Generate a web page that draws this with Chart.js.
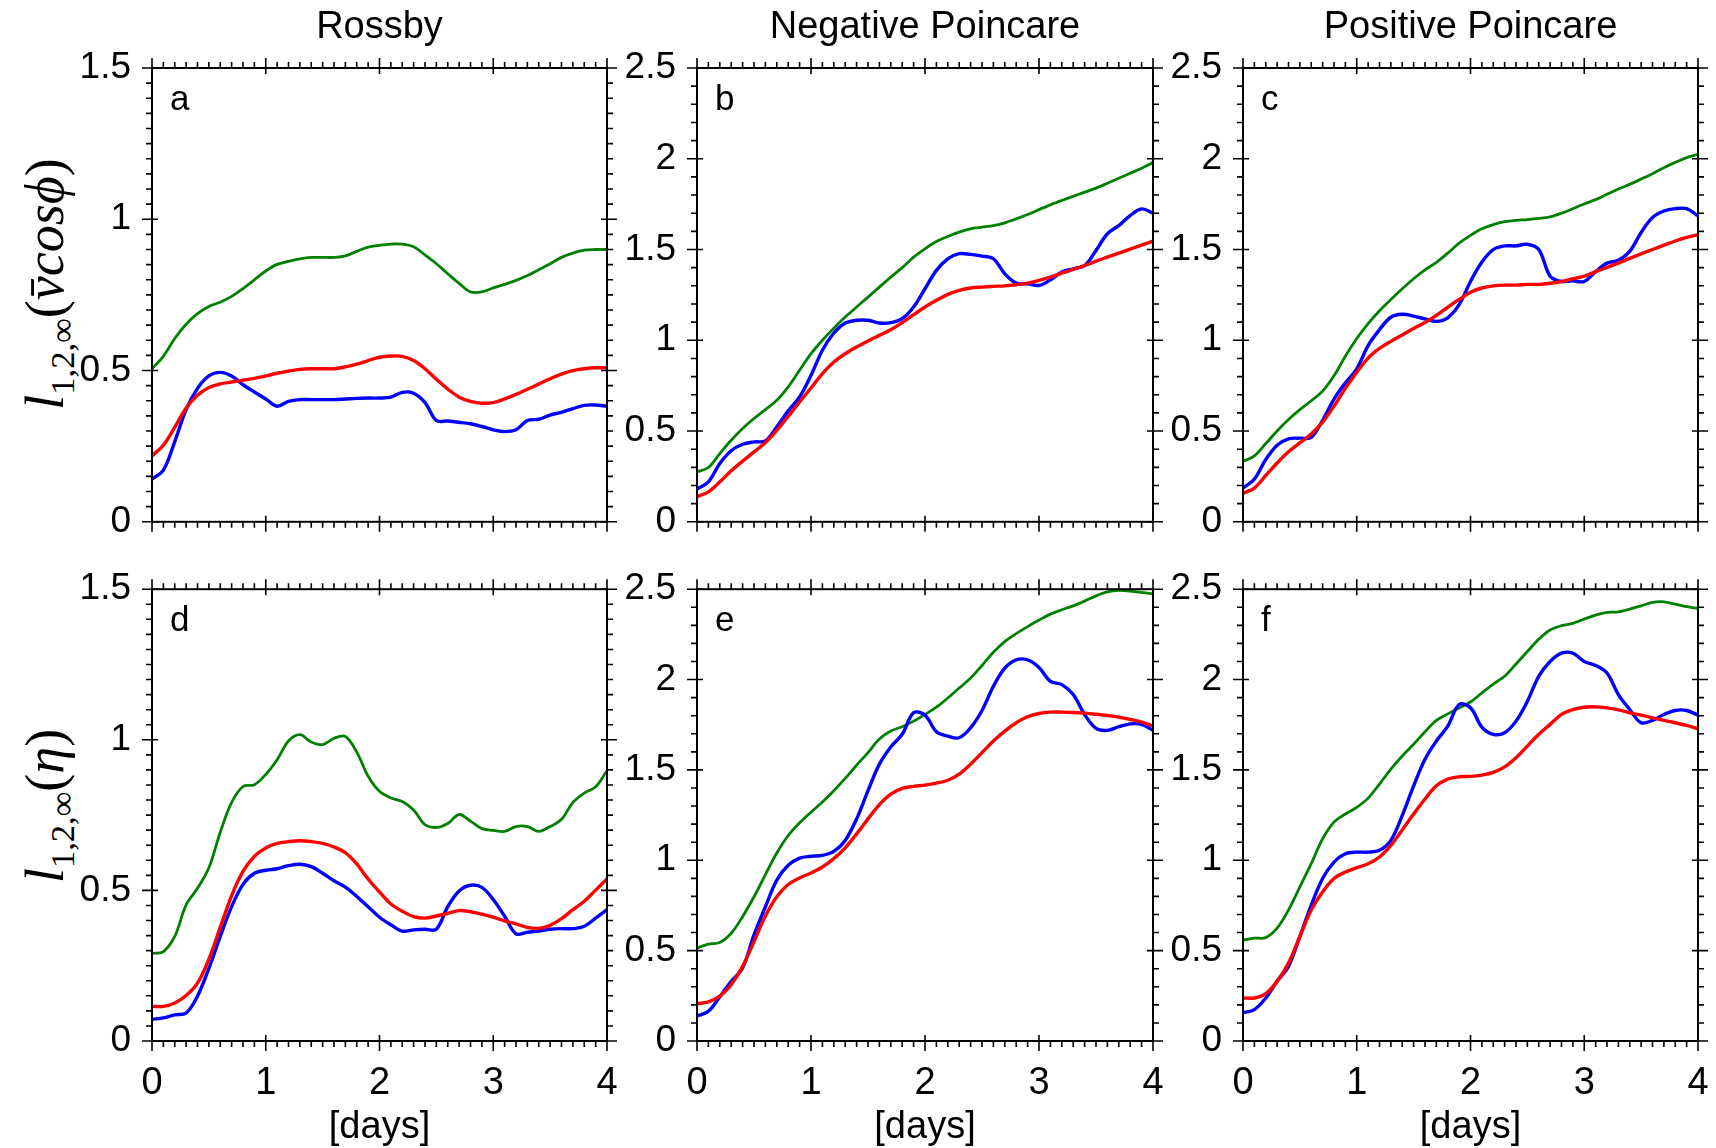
<!DOCTYPE html>
<html lang="en">
<head>
<meta charset="UTF-8">
<title>Rossby / Poincare norms</title>
<script src="https://cdn.jsdelivr.net/npm/chart.js@4"></script>
<style>
  body { margin: 0; background: #fff; }
  #fig { position: relative; width: 1716px; height: 1148px; overflow: hidden; background: #fff; }
  #fig canvas { position: absolute; }
  .ylab {
    position: absolute; white-space: nowrap; color: #000;
    font-family: "Liberation Serif", "DejaVu Serif", serif; font-size: 54px;
    transform: translate(-50%, -50%) rotate(-90deg);
  }
  .ylab sub { font-size: 0.64em; font-style: normal; }
</style>
</head>
<body>
<div id="fig">
  <div class="ylab" style="left:48px; top:284px"><i>l</i><sub>1,2,∞</sub>(<i>v̄cosϕ</i>)</div>
  <div class="ylab" style="left:48px; top:806px"><i>l</i><sub>1,2,∞</sub>(<i>η</i>)</div>
</div>
<script>
  // time axis, days
  var days = [0, 0.1, 0.2, 0.3, 0.4, 0.5, 0.6, 0.7, 0.8, 0.9, 1, 1.1, 1.2, 1.3, 1.4, 1.5, 1.6, 1.7, 1.8, 1.9, 2,
    2.1, 2.2, 2.3, 2.4, 2.5, 2.6, 2.7, 2.8, 2.9, 3, 3.1, 3.2, 3.3, 3.4, 3.5, 3.6, 3.7, 3.8, 3.9, 4];

  // a - Rossby, vcos(phi)
  var aGreen = [0.506, 0.547, 0.606, 0.653, 0.688, 0.712, 0.726, 0.745, 0.771, 0.800, 0.829, 0.851, 0.861, 0.869, 0.874, 0.874, 0.874, 0.879, 0.894, 0.908, 0.914,
    0.918, 0.918, 0.909, 0.882, 0.853, 0.820, 0.788, 0.760, 0.760, 0.773, 0.785, 0.798, 0.814, 0.833, 0.853, 0.874, 0.888, 0.898, 0.900, 0.900];
  var aBlue = [0.141, 0.171, 0.265, 0.371, 0.441, 0.482, 0.494, 0.482, 0.453, 0.429, 0.406, 0.382, 0.398, 0.404, 0.404, 0.404, 0.404, 0.406, 0.408, 0.409, 0.409,
    0.412, 0.428, 0.425, 0.394, 0.335, 0.333, 0.329, 0.324, 0.315, 0.304, 0.298, 0.304, 0.335, 0.339, 0.353, 0.362, 0.374, 0.385, 0.386, 0.382];
  var aRed = [0.218, 0.253, 0.312, 0.376, 0.418, 0.444, 0.456, 0.462, 0.468, 0.474, 0.482, 0.491, 0.498, 0.504, 0.506, 0.506, 0.506, 0.512, 0.521, 0.533, 0.544,
    0.548, 0.547, 0.533, 0.506, 0.471, 0.439, 0.412, 0.398, 0.392, 0.394, 0.406, 0.421, 0.438, 0.455, 0.473, 0.488, 0.500, 0.506, 0.509, 0.509];

  // b - Negative Poincare, vcos(phi)
  var bGreen = [0.275, 0.299, 0.376, 0.449, 0.514, 0.569, 0.618, 0.669, 0.743, 0.835, 0.926, 1.000, 1.067, 1.128, 1.183, 1.238, 1.293, 1.348, 1.400, 1.458, 1.504,
    1.544, 1.572, 1.596, 1.614, 1.623, 1.632, 1.647, 1.669, 1.693, 1.720, 1.746, 1.770, 1.793, 1.816, 1.838, 1.865, 1.893, 1.920, 1.948, 1.979];
  var bBlue = [0.180, 0.220, 0.321, 0.391, 0.427, 0.440, 0.446, 0.523, 0.611, 0.688, 0.807, 0.945, 1.040, 1.095, 1.110, 1.110, 1.095, 1.097, 1.119, 1.183, 1.284,
    1.385, 1.449, 1.477, 1.473, 1.464, 1.449, 1.366, 1.315, 1.311, 1.302, 1.333, 1.376, 1.394, 1.412, 1.495, 1.587, 1.632, 1.687, 1.724, 1.700];
  var bRed = [0.138, 0.165, 0.220, 0.281, 0.334, 0.385, 0.437, 0.504, 0.581, 0.660, 0.737, 0.816, 0.880, 0.926, 0.963, 0.996, 1.027, 1.058, 1.097, 1.141, 1.183,
    1.220, 1.253, 1.275, 1.288, 1.293, 1.297, 1.300, 1.306, 1.315, 1.330, 1.348, 1.370, 1.390, 1.412, 1.436, 1.458, 1.480, 1.502, 1.524, 1.546];

  // c - Positive Poincare, vcos(phi)
  var cGreen = [0.333, 0.363, 0.431, 0.500, 0.563, 0.618, 0.667, 0.720, 0.804, 0.912, 1.010, 1.092, 1.163, 1.225, 1.284, 1.339, 1.388, 1.429, 1.480, 1.535, 1.578,
    1.614, 1.637, 1.653, 1.661, 1.665, 1.671, 1.680, 1.700, 1.725, 1.751, 1.775, 1.804, 1.833, 1.859, 1.888, 1.918, 1.951, 1.980, 2.006, 2.025];
  var cBlue = [0.186, 0.235, 0.343, 0.422, 0.457, 0.461, 0.465, 0.559, 0.676, 0.765, 0.843, 0.971, 1.059, 1.127, 1.143, 1.133, 1.118, 1.104, 1.124, 1.196, 1.324,
    1.431, 1.500, 1.520, 1.520, 1.529, 1.500, 1.353, 1.324, 1.327, 1.324, 1.378, 1.425, 1.441, 1.490, 1.594, 1.676, 1.712, 1.725, 1.725, 1.686];
  var cRed = [0.157, 0.186, 0.255, 0.324, 0.386, 0.435, 0.484, 0.549, 0.637, 0.735, 0.824, 0.902, 0.955, 0.994, 1.029, 1.065, 1.098, 1.137, 1.182, 1.225, 1.265,
    1.288, 1.300, 1.304, 1.304, 1.308, 1.308, 1.314, 1.324, 1.339, 1.353, 1.378, 1.402, 1.425, 1.451, 1.476, 1.500, 1.524, 1.547, 1.567, 1.582];

  // d - Rossby, eta
  var dGreen = [0.291, 0.297, 0.347, 0.452, 0.507, 0.575, 0.693, 0.792, 0.845, 0.851, 0.885, 0.934, 0.996, 1.017, 0.993, 0.984, 1.005, 1.011, 0.959, 0.879, 0.829,
    0.807, 0.795, 0.767, 0.718, 0.709, 0.722, 0.752, 0.730, 0.705, 0.699, 0.696, 0.712, 0.712, 0.696, 0.712, 0.736, 0.792, 0.823, 0.844, 0.897];
  var dBlue = [0.072, 0.077, 0.087, 0.093, 0.149, 0.241, 0.347, 0.446, 0.520, 0.557, 0.567, 0.572, 0.582, 0.587, 0.579, 0.557, 0.532, 0.511, 0.480, 0.446, 0.411,
    0.386, 0.365, 0.369, 0.371, 0.371, 0.446, 0.498, 0.517, 0.510, 0.470, 0.414, 0.356, 0.361, 0.365, 0.371, 0.373, 0.373, 0.381, 0.408, 0.436];
  var dRed = [0.115, 0.115, 0.126, 0.151, 0.192, 0.272, 0.377, 0.483, 0.563, 0.613, 0.641, 0.656, 0.662, 0.665, 0.662, 0.656, 0.644, 0.625, 0.588, 0.538, 0.495,
    0.455, 0.431, 0.413, 0.408, 0.415, 0.424, 0.433, 0.429, 0.421, 0.411, 0.399, 0.389, 0.377, 0.374, 0.384, 0.406, 0.436, 0.464, 0.501, 0.538];

  // e - Negative Poincare, eta
  var eGreen = [0.514, 0.536, 0.545, 0.596, 0.688, 0.798, 0.921, 1.040, 1.137, 1.207, 1.266, 1.322, 1.385, 1.453, 1.526, 1.596, 1.671, 1.715, 1.739, 1.770, 1.807,
    1.847, 1.898, 1.953, 2.008, 2.078, 2.151, 2.210, 2.254, 2.293, 2.329, 2.362, 2.386, 2.408, 2.434, 2.463, 2.485, 2.493, 2.489, 2.482, 2.474];
  var eBlue = [0.138, 0.165, 0.244, 0.330, 0.404, 0.587, 0.743, 0.890, 0.972, 1.012, 1.022, 1.027, 1.049, 1.110, 1.229, 1.385, 1.532, 1.627, 1.697, 1.816, 1.803,
    1.711, 1.687, 1.678, 1.733, 1.829, 1.963, 2.063, 2.109, 2.109, 2.067, 1.990, 1.972, 1.917, 1.807, 1.730, 1.719, 1.739, 1.755, 1.752, 1.719];
  var eRed = [0.207, 0.216, 0.248, 0.312, 0.413, 0.550, 0.692, 0.798, 0.866, 0.902, 0.930, 0.963, 1.009, 1.069, 1.146, 1.229, 1.308, 1.366, 1.398, 1.409, 1.416,
    1.427, 1.443, 1.477, 1.532, 1.596, 1.660, 1.715, 1.761, 1.794, 1.812, 1.820, 1.820, 1.818, 1.814, 1.808, 1.801, 1.792, 1.779, 1.765, 1.742];

  // f - Positive Poincare, eta
  var fGreen = [0.559, 0.569, 0.572, 0.624, 0.725, 0.853, 0.981, 1.119, 1.211, 1.256, 1.293, 1.344, 1.422, 1.504, 1.577, 1.642, 1.711, 1.774, 1.810, 1.843, 1.876,
    1.926, 1.975, 2.018, 2.086, 2.155, 2.223, 2.274, 2.298, 2.311, 2.335, 2.357, 2.372, 2.375, 2.390, 2.408, 2.427, 2.430, 2.417, 2.403, 2.394];
  var fBlue = [0.156, 0.174, 0.238, 0.330, 0.413, 0.578, 0.752, 0.899, 0.990, 1.036, 1.045, 1.045, 1.055, 1.110, 1.248, 1.412, 1.559, 1.660, 1.742, 1.862, 1.844,
    1.737, 1.697, 1.706, 1.770, 1.880, 2.018, 2.100, 2.146, 2.146, 2.100, 2.078, 2.036, 1.917, 1.834, 1.761, 1.774, 1.807, 1.829, 1.829, 1.803];
  var fRed = [0.238, 0.238, 0.262, 0.330, 0.431, 0.578, 0.725, 0.825, 0.899, 0.935, 0.959, 0.981, 1.018, 1.082, 1.168, 1.256, 1.339, 1.412, 1.449, 1.462, 1.464,
    1.471, 1.486, 1.517, 1.568, 1.632, 1.697, 1.752, 1.807, 1.834, 1.847, 1.849, 1.843, 1.832, 1.816, 1.803, 1.788, 1.774, 1.761, 1.746, 1.728];

  var columnTitles = ['Rossby', 'Negative Poincare', 'Positive Poincare'];
  var panelLetters = ['a', 'b', 'c', 'd', 'e', 'f'];
  var xTicks = [0, 1, 2, 3, 4];

  var panels = [
    { green: aGreen, blue: aBlue, red: aRed, yMax: 1.5, yMinor: 0.05 },
    { green: bGreen, blue: bBlue, red: bRed, yMax: 2.5, yMinor: 0.1 },
    { green: cGreen, blue: cBlue, red: cRed, yMax: 2.5, yMinor: 0.1 },
    { green: dGreen, blue: dBlue, red: dRed, yMax: 1.5, yMinor: 0.05 },
    { green: eGreen, blue: eBlue, red: eRed, yMax: 2.5, yMinor: 0.1 },
    { green: fGreen, blue: fBlue, red: fRed, yMax: 2.5, yMinor: 0.1 }
  ];

  // layout of the plot boxes in the page
  var plotLeft = [152, 697, 1243];
  var plotWidth = [455, 456, 455];
  var canvasTop = [0, 546];
  var canvasHeight = [565, 602]; // top row: chart area ends 42px above the canvas bottom
  var MARGEM = 120; // room for the y tick labels, mirrored on the right so titles stay centred
  var FONT = '"Liberation Sans", Arial, sans-serif';

  function pontos(vals) {
    return days.map(function (d, i) { return { x: d, y: vals[i] }; });
  }

  // frame, outward ticks (major ticks cross the frame) and panel letter
  var molduraPainel = {
    id: 'moldura',
    afterDatasetsDraw: function (chart, args, o) {
      var ctx = chart.ctx, a = chart.chartArea;
      var sx = chart.scales.x, sy = chart.scales.y;
      ctx.save();
      ctx.strokeStyle = '#000';
      ctx.lineWidth = 1.6;
      ctx.beginPath();
      for (var i = 0; i <= 40; i++) {
        var px = sx.getPixelForValue(i / 10);
        var maior = i % 10 === 0;
        var fora = maior ? 10 : 6, dentro = maior ? 6 : 0;
        ctx.moveTo(px, a.bottom - dentro); ctx.lineTo(px, a.bottom + fora);
        ctx.moveTo(px, a.top + dentro); ctx.lineTo(px, a.top - fora);
      }
      var n = Math.round(o.yMax / o.yMinor), porMaior = Math.round(0.5 / o.yMinor);
      for (var j = 0; j <= n; j++) {
        var py = sy.getPixelForValue(j * o.yMinor);
        var maiorY = j % porMaior === 0;
        var foraY = maiorY ? 10 : 6, dentroY = maiorY ? 6 : 0;
        ctx.moveTo(a.left + dentroY, py); ctx.lineTo(a.left - foraY, py);
        ctx.moveTo(a.right - dentroY, py); ctx.lineTo(a.right + foraY, py);
      }
      ctx.stroke();
      ctx.lineWidth = 2;
      ctx.strokeRect(a.left, a.top, a.right - a.left, a.bottom - a.top);
      ctx.fillStyle = '#000';
      ctx.font = '35px ' + FONT;
      ctx.textBaseline = 'alphabetic';
      ctx.fillText(o.letter, a.left + 18, a.top + 42);
      ctx.restore();
    }
  };

  var fig = document.getElementById('fig');

  panels.forEach(function (p, k) {
    var col = k % 3, row = Math.floor(k / 3);
    var cv = document.createElement('canvas');
    cv.width = MARGEM + plotWidth[col] + MARGEM;
    cv.height = canvasHeight[row];
    cv.style.left = (plotLeft[col] - MARGEM) + 'px';
    cv.style.top = canvasTop[row] + 'px';
    fig.appendChild(cv);

    var baixo = row === 1;

    new Chart(cv.getContext('2d'), {
      type: 'line',
      data: {
        datasets: [
          { label: 'l1', data: pontos(p.red), borderColor: 'rgb(255, 0, 0)', borderWidth: 3.4 },
          { label: 'l2', data: pontos(p.blue), borderColor: 'rgb(0, 0, 255)', borderWidth: 3.4 },
          { label: 'linf', data: pontos(p.green), borderColor: 'rgb(0, 128, 0)', borderWidth: 2.8 }
        ]
      },
      options: {
        responsive: false,
        animation: false,
        layout: { padding: { left: 0, right: 0, top: baixo ? 40 : 0, bottom: 0 } },
        elements: {
          point: { radius: 0 },
          line: { tension: 0.35, fill: false, borderJoinStyle: 'round', borderCapStyle: 'round' }
        },
        scales: {
          x: {
            type: 'linear', position: 'bottom', min: 0, max: 4,
            afterFit: function (s) { s.height = baixo ? 107 : 20; },
            afterBuildTicks: function (s) { s.ticks = xTicks.map(function (v) { return { value: v }; }); },
            grid: { display: false, drawTicks: false },
            border: { display: false },
            ticks: {
              display: baixo, color: '#000', padding: 20, maxRotation: 0, autoSkip: false,
              font: { family: FONT, size: 38 },
              callback: function (v) { return String(v); }
            },
            title: {
              display: baixo, text: '[days]', color: '#000',
              font: { family: FONT, size: 38, lineHeight: 1.1 }, padding: { top: 0, bottom: 0 }
            }
          },
          y: {
            type: 'linear', position: 'left', min: 0, max: p.yMax,
            afterFit: function (s) { s.width = MARGEM; },
            grid: { display: false, drawTicks: false },
            border: { display: false },
            ticks: {
              stepSize: 0.5, color: '#000', padding: 21,
              font: { family: FONT, size: 37 },
              callback: function (v) { return String(Math.round(v * 10) / 10); }
            }
          },
          y2: {
            type: 'linear', position: 'right', min: 0, max: p.yMax,
            afterFit: function (s) { s.width = MARGEM; },
            grid: { display: false, drawTicks: false },
            border: { display: false },
            ticks: { display: false }
          }
        },
        plugins: {
          legend: { display: false },
          tooltip: { enabled: false },
          title: {
            display: !baixo, text: columnTitles[col], color: '#000',
            font: { family: FONT, size: 38, weight: 'normal' },
            padding: { top: 5, bottom: 17.4 }
          },
          moldura: { letter: panelLetters[k], yMax: p.yMax, yMinor: p.yMinor }
        }
      },
      plugins: [molduraPainel]
    });
  });
</script>
</body>
</html>
